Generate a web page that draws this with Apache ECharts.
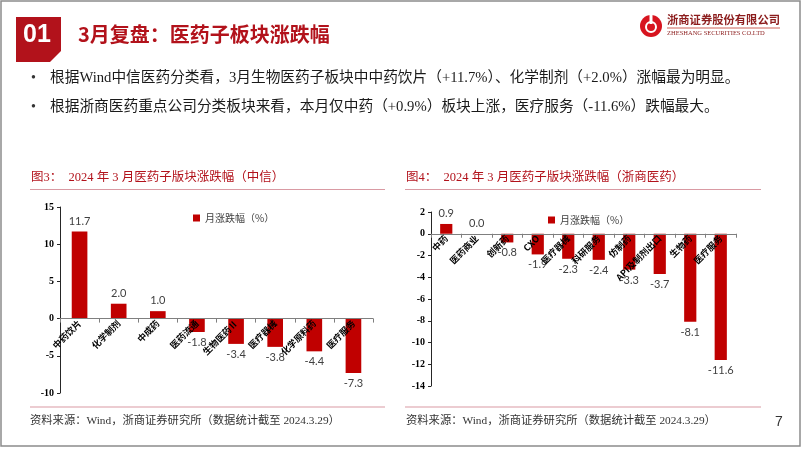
<!DOCTYPE html>
<html><head><meta charset="utf-8">
<script src="https://cdn.jsdelivr.net/npm/echarts@6/dist/echarts.min.js"></script>
<style>html,body{margin:0;padding:0;background:#fff}#c{width:802px;height:451px}</style>
</head><body><div id="c"></div>
<script>
const cats1 = ['中药饮片','化学制剂','中成药','医药流通','生物医药Ⅱ','医疗器械','化学原料药','医疗服务'];
const vals1 = [11.7, 2.0, 1.0, -1.8, -3.4, -3.8, -4.4, -7.3];
const cats2 = ['中药','医药商业','创新药','CXO','医疗器械','科研服务','仿制药','API及制剂出口','生物药','医疗服务'];
const vals2 = [0.9, 0.0, -0.8, -1.9, -2.3, -2.4, -3.3, -3.7, -8.1, -11.6];
const yRange1 = [-10, 15, 5];
const yRange2 = [-14, 2, 2];
const seriesName = '月涨跌幅（%）';
const title1 = '图3：  2024 年 3 月医药子版块涨跌幅（中信）';
const title2 = '图4：  2024 年 3 月医药子版块涨跌幅（浙商医药）';
const source = '资料来源：Wind，浙商证券研究所（数据统计截至 2024.3.29）';
const bullet1 = '根据Wind中信医药分类看，3月生物医药子板块中中药饮片（+11.7%）、化学制剂（+2.0%）涨幅最为明显。';
const bullet2 = '根据浙商医药重点公司分类板块来看，本月仅中药（+0.9%）板块上涨，医疗服务（-11.6%）跌幅最大。';

const RED = '#c00000';
const SERIF = '"Liberation Serif","Noto Sans CJK SC",serif';
const SANS = '"Noto Sans CJK SC","Liberation Sans",sans-serif';
const LINE = '#d99aa3';

const grid1 = {left:60, top:207, width:313, height:186};
const grid2 = {left:431, top:212, width:305, height:174};

function barData(vals){
  return vals.map(v => ({value: v, label: {position: v < 0 ? 'bottom' : 'top'}}));
}
// put the category axis on the zero line (labels included)
function zeroOffset(grid, r){
  return -grid.height * (0 - r[0]) / (r[1] - r[0]);
}
function xAxisCfg(cats, idx, off){
  return {
    type:'category', gridIndex: idx, data: cats, position:'bottom', offset: off, z: 10,
    axisLine:{onZero:false, lineStyle:{color:'#7f7f7f', width:1}},
    axisTick:{show:true, length:4, lineStyle:{color:'#7f7f7f'}},
    axisLabel:{interval:0, rotate:45, fontSize:9, fontWeight:'bold', color:'#000', fontFamily:SANS, margin:3}
  };
}
function yAxisCfg(r, idx){
  return {
    type:'value', gridIndex: idx, min:r[0], max:r[1], interval:r[2],
    axisLine:{show:true, lineStyle:{color:'#262626', width:1}},
    axisTick:{show:true, length:3, lineStyle:{color:'#262626'}},
    splitLine:{show:false},
    axisLabel:{fontSize:10, fontWeight:'bold', color:'#000', fontFamily:SERIF, margin:6}
  };
}
function barSeries(vals, idx){
  return {
    name: seriesName, type:'bar', xAxisIndex: idx, yAxisIndex: idx,
    data: barData(vals), barWidth:'40%',
    itemStyle:{color:RED},
    label:{show:true, distance:5, fontSize:11, color:'#404040', fontFamily:'Lato,"Liberation Sans",sans-serif',
      formatter: p => p.value.toFixed(1)}
  };
}

const chart = echarts.init(document.getElementById('c'));
chart.setOption({
  animation:false,
  backgroundColor:'#fff',
  grid:[grid1, grid2],
  xAxis:[xAxisCfg(cats1,0,zeroOffset(grid1,yRange1)), xAxisCfg(cats2,1,zeroOffset(grid2,yRange2))],
  yAxis:[yAxisCfg(yRange1,0), yAxisCfg(yRange2,1)],
  legend:[
    {left:188, top:208, itemWidth:7, itemHeight:7, icon:'rect', itemGap:4,
     textStyle:{fontSize:10, color:'#404040', fontFamily:SANS}, data:[seriesName]},
    {left:543, top:210, itemWidth:7, itemHeight:7, icon:'rect', itemGap:4,
     textStyle:{fontSize:10, color:'#404040', fontFamily:SANS}, data:[seriesName]}
  ],
  series:[barSeries(vals1,0), barSeries(vals2,1)],
  graphic:[
    {type:'rect', shape:{x:1, y:1, width:799, height:445}, style:{fill:'none', stroke:'#8c8c8c', lineWidth:1.5}, silent:true},
    {type:'polygon', shape:{points:[[16,17],[61,17],[61,51],[50,62],[16,62]]}, style:{fill:'#b2121b'}},
    {type:'text', x:37, y:35, style:{text:'01', fill:'#fff', font:'bold 25px "Liberation Sans",Arial,sans-serif', textAlign:'center', textVerticalAlign:'middle'}},
    {type:'text', x:78, y:34, style:{text:'3月复盘：医药子板块涨跌幅', fill:'#b2121b', font:'bold 20px '+SANS, textVerticalAlign:'middle'}},
    // logo
    {type:'circle', shape:{cx:651, cy:26, r:11}, style:{fill:'#d7141f'}},
    {type:'circle', shape:{cx:651, cy:27, r:5}, style:{fill:'none', stroke:'#fff', lineWidth:2}},
    {type:'rect', shape:{x:649.5, y:15, width:3, height:9}, style:{fill:'#fff'}},
    {type:'text', x:667, y:20, style:{text:'浙商证券股份有限公司', fill:'#8c1d1d', font:'bold 11.3px '+SANS, textVerticalAlign:'middle'}},
    {type:'line', shape:{x1:667, y1:28, x2:780, y2:28}, style:{stroke:'#c0392b', lineWidth:0.8}},
    {type:'text', x:667, y:33.5, style:{text:'ZHESHANG SECURITIES CO.LTD', fill:'#8c1d1d', font:'6.5px '+SERIF, textVerticalAlign:'middle'}},
    // bullets
    {type:'text', x:31, y:78, style:{text:'•', fill:'#333', font:'14px '+SERIF, textVerticalAlign:'middle'}},
    {type:'text', x:50, y:78, style:{text:bullet1, fill:'#1a1a1a', font:'14.7px '+SERIF, textVerticalAlign:'middle'}},
    {type:'text', x:31, y:107, style:{text:'•', fill:'#333', font:'14px '+SERIF, textVerticalAlign:'middle'}},
    {type:'text', x:50, y:107, style:{text:bullet2, fill:'#1a1a1a', font:'14.7px '+SERIF, textVerticalAlign:'middle'}},
    // chart titles
    {type:'text', x:31, y:178, style:{text:title1, fill:'#b2121b', font:'12.5px '+SERIF, textVerticalAlign:'middle'}},
    {type:'line', shape:{x1:30, y1:189.5, x2:385, y2:189.5}, style:{stroke:LINE, lineWidth:1.2}},
    {type:'text', x:406, y:178, style:{text:title2, fill:'#b2121b', font:'12.5px '+SERIF, textVerticalAlign:'middle'}},
    {type:'line', shape:{x1:405, y1:189.5, x2:761, y2:189.5}, style:{stroke:LINE, lineWidth:1.2}},
    // footers
    {type:'line', shape:{x1:30, y1:407, x2:385, y2:407}, style:{stroke:LINE, lineWidth:1.2}},
    {type:'line', shape:{x1:405, y1:407, x2:761, y2:407}, style:{stroke:LINE, lineWidth:1.2}},
    {type:'text', x:30, y:421, style:{text:source, fill:'#333', font:'11.3px '+SERIF, textVerticalAlign:'middle'}},
    {type:'text', x:406, y:421, style:{text:source, fill:'#333', font:'11.3px '+SERIF, textVerticalAlign:'middle'}},
    {type:'text', x:779, y:422, style:{text:'7', fill:'#333', font:'14px "Liberation Sans",sans-serif', textAlign:'center', textVerticalAlign:'middle'}}
  ]
});
</script></body></html>
